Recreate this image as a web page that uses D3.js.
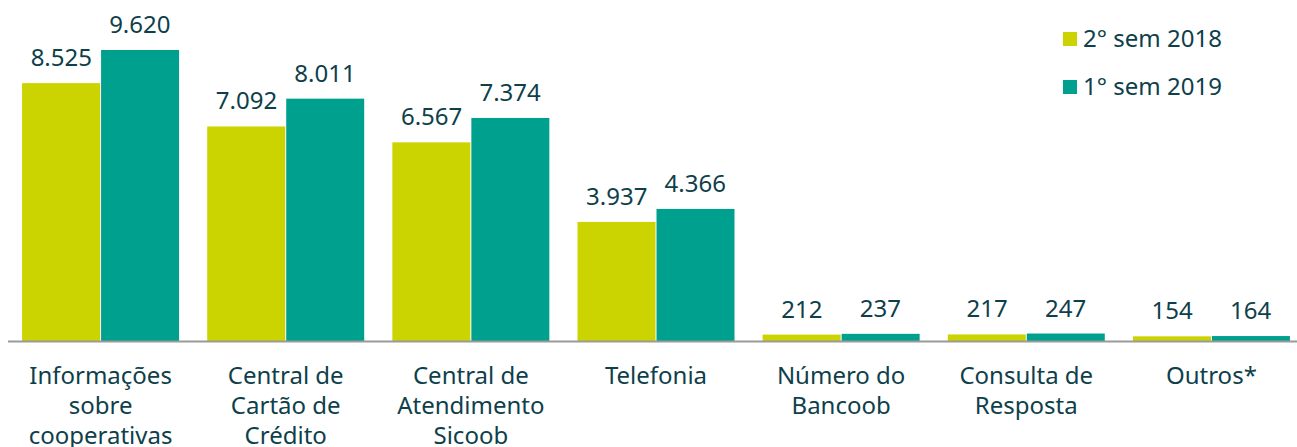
<!DOCTYPE html>
<html>
<head>
<meta charset="utf-8">
<script src="https://cdn.jsdelivr.net/npm/d3@7"></script>
<style>
  html, body { margin: 0; padding: 0; background: #fff; }
  svg text { font-family: "Noto Sans", "Open Sans", sans-serif; fill: #0e3f4b; }
</style>
</head>
<body>
<svg id="chart" width="1297" height="447"></svg>
<script>
// categories (each label split in lines)
const categories = [
	['Informações', 'sobre', 'cooperativas'],
	['Central de', 'Cartão de', 'Crédito'],
	['Central de', 'Atendimento', 'Sicoob'],
	['Telefonia'],
	['Número do', 'Bancoob'],
	['Consulta de', 'Resposta'],
	['Outros*']
];
const seriesNames = ['2° sem 2018', '1° sem 2019'];
const sem2018 = [8525, 7092, 6567, 3937, 212, 217, 154];
const sem2019 = [9620, 8011, 7374, 4366, 237, 247, 164];
const colors = ['#cbd300', '#00a08e'];

const width = 1297, height = 447;
const baseY = 341;

const svg = d3.select('#chart');

const keys = categories.map(c => c.join(' '));

const x = d3.scaleBand()
	.domain(keys)
	.range([8, 1304])
	.paddingInner(0.152)
	.paddingOuter(0.076);

const xs = d3.scaleBand()
	.domain([0, 1])
	.range([0, x.bandwidth()]);

const y = d3.scaleLinear()
	.domain([0, 10000])
	.range([baseY, baseY - 302.5]);

const fmt = v => d3.format(',')(v).replace(/,/g, '.');

const series = [sem2018, sem2019];

const groups = svg.selectAll('g.grp')
	.data(keys)
	.join('g')
	.attr('class', 'grp')
	.attr('transform', d => `translate(${x(d)},0)`);

groups.each(function(k, i) {
	let g = d3.select(this);
	series.forEach((s, j) => {
		g.append('rect')
			.attr('x', xs(j) + (j ? 0.5 : 0))
			.attr('width', xs.bandwidth() - 0.5)
			.attr('y', y(s[i]))
			.attr('height', baseY - y(s[i]))
			.attr('fill', colors[j]);
		g.append('text')
			.attr('x', xs(j) + xs.bandwidth() / 2)
			.attr('y', y(s[i]) - 17)
			.attr('text-anchor', 'middle')
			.attr('font-size', 24)
			.text(fmt(s[i]));
	});
});

// baseline
svg.append('line')
	.attr('x1', 8).attr('x2', width)
	.attr('y1', baseY + 0.5).attr('y2', baseY + 0.5)
	.attr('stroke', '#9a9a9a')
	.attr('stroke-width', 2);

// category labels
categories.forEach((lines, i) => {
	let cx = x(keys[i]) + x.bandwidth() / 2;
	let t = svg.append('text')
		.attr('text-anchor', 'middle')
		.attr('font-size', 24)
		.attr('x', cx)
		.attr('y', 384);
	lines.forEach((l, j) => {
		t.append('tspan')
			.attr('x', cx)
			.attr('y', 384 + j * 30)
			.text(l);
	});
});

// legend
const legend = svg.append('g')
	.attr('transform', 'translate(1063,32)');

seriesNames.forEach((n, i) => {
	legend.append('rect')
		.attr('x', 0).attr('y', i * 48)
		.attr('width', 14).attr('height', 14)
		.attr('fill', colors[i]);
	legend.append('text')
		.attr('x', 20).attr('y', i * 48 + 15)
		.attr('font-size', 24)
		.text(n);
});
</script>
</body>
</html>
